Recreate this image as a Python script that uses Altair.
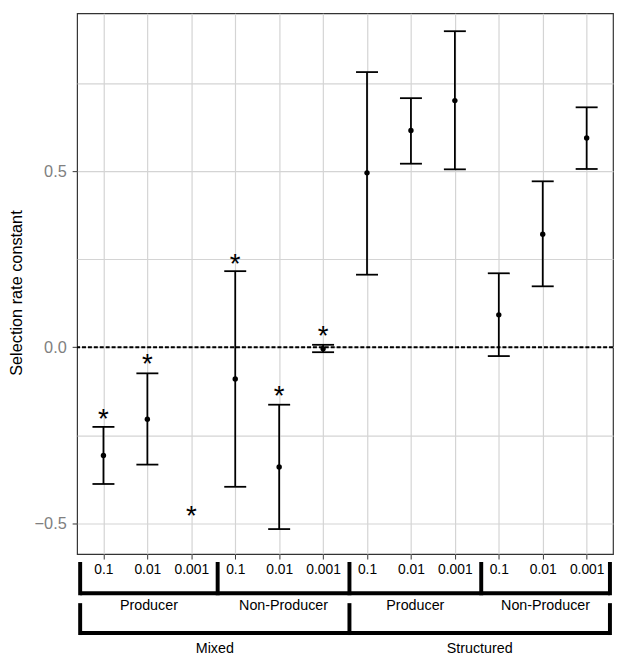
import json
import altair as alt
import pandas as pd

# ---- data ----
treatment = ["Mixed"] * 6 + ["Structured"] * 6
strain = (["Producer"] * 3 + ["Non-Producer"] * 3) * 2
dose = ["0.1", "0.01", "0.001"] * 4
mean = [-0.307, -0.204, None, -0.090, -0.340, -0.004, 0.495, 0.615, 0.700, 0.092, 0.321, 0.594]
lower = [-0.388, -0.333, None, -0.396, -0.516, -0.014, 0.206, 0.521, 0.505, -0.025, 0.173, 0.506]
upper = [-0.226, -0.074, None, 0.216, -0.163, 0.007, 0.781, 0.707, 0.897, 0.210, 0.471, 0.681]
star_y = [-0.185, -0.028, -0.459, 0.257, -0.118, 0.052, None, None, None, None, None, None]
y_ticks = [-0.5, -0.25, 0.0, 0.25, 0.5, 0.75]

FONT = "Liberation Sans"
GRID = "#d4d4d4"

pos = list(range(1, len(dose) + 1))
df = pd.DataFrame({
    "pos": pos, "treatment": treatment, "strain": strain, "dose": dose,
    "mean": mean, "lower": lower, "upper": upper,
})
df["cap_l"] = df["pos"] - 0.25
df["cap_r"] = df["pos"] + 0.25

stars = pd.DataFrame({"pos": pos, "star": star_y}).dropna()

# ---- bracket geometry derived from grouping ----
def group_edges(keys):
    groups = []
    for i, k in enumerate(keys):
        p = i + 1
        if groups and groups[-1][0] == k:
            groups[-1][2] = p
        else:
            groups.append([k, p, p])
    return groups

lvl1 = group_edges(list(zip(treatment, strain)))
lvl2 = group_edges(treatment)
n = len(dose)

def edge_left(first):
    return first - 0.53 if first == 1 else first - 0.4

def edge_right(last):
    return last + 0.53 if last == n else last + 0.6

b1 = pd.DataFrame([{"pos": edge_left(f), "pos_end": edge_right(l), "label": k[1]} for k, f, l in lvl1])
b2 = pd.DataFrame([{"pos": edge_left(f), "pos_end": edge_right(l), "label": k} for k, f, l in lvl2])
b1["mid"] = (b1["pos"] + b1["pos_end"]) / 2
b2["mid"] = (b2["pos"] + b2["pos_end"]) / 2
v1 = pd.DataFrame({"pos": sorted(set(b1["pos"]).union(b1["pos_end"]))})
v2 = pd.DataFrame({"pos": sorted(set(b2["pos"]).union(b2["pos_end"]))})

# ---- encodings ----
x_axis = alt.Axis(
    values=pos,
    labelExpr=json.dumps(dose) + "[datum.value - 1]",
    grid=True, gridColor=GRID, gridWidth=1.2,
    tickColor="#333333", tickSize=5, tickWidth=1,
    labelFont=FONT, labelFontSize=14, labelColor="black",
    labelBaseline="alphabetic", labelPadding=15,
    labelFlush=False, labelOverlap=False,
    domain=False, title=None,
)
x_scale = alt.Scale(domain=[0.4, 12.6], nice=False, zero=False)
X = alt.X("pos:Q", scale=x_scale, axis=x_axis, title=None)

major = "abs(datum.value % 0.5) < 0.001"
y_axis = alt.Axis(
    values=y_ticks, format=".1f",
    labelExpr=major + " ? datum.label : ''",
    tickOpacity={"condition": {"test": major, "value": 1}, "value": 0},
    grid=True, gridColor=GRID, gridWidth=1.2,
    tickColor="#333333", tickSize=5, tickWidth=1,
    labelFont=FONT, labelFontSize=16.5, labelColor="#808080", labelPadding=6,
    domain=False,
    title="Selection rate constant",
    titleFont=FONT, titleFontSize=16.5, titleFontWeight="normal", titleColor="black",
    titleAngle=270, titleAlign="center", titleBaseline="middle",
    titleX=-61, titleY=283,
)
y_scale = alt.Scale(domain=[-0.587, 0.948], nice=False, zero=False)

base = alt.Chart(df)
LWE = 1.8

zero = alt.Chart(pd.DataFrame({"z": [0.0]})).mark_rule(
    color="black", strokeWidth=2.2, strokeDash=[4, 2]
).encode(y=alt.Y("z:Q", scale=y_scale, axis=y_axis))

bars = base.mark_rule(color="black", strokeWidth=LWE).encode(
    x=X, y=alt.Y("lower:Q", scale=y_scale, axis=y_axis), y2="upper:Q"
)
cap_hi = base.mark_rule(color="black", strokeWidth=LWE).encode(
    x=alt.X("cap_l:Q", scale=x_scale, axis=x_axis, title=None), x2="cap_r:Q",
    y=alt.Y("upper:Q", scale=y_scale, axis=y_axis),
)
cap_lo = base.mark_rule(color="black", strokeWidth=LWE).encode(
    x=alt.X("cap_l:Q", scale=x_scale, axis=x_axis, title=None), x2="cap_r:Q",
    y=alt.Y("lower:Q", scale=y_scale, axis=y_axis),
)
points = base.mark_circle(color="black", opacity=1, size=30).encode(
    x=X, y=alt.Y("mean:Q", scale=y_scale, axis=y_axis)
)
star_fs = 28
asterisks = alt.Chart(stars).mark_text(
    text="*", font=FONT, fontSize=star_fs, color="black",
    baseline="alphabetic", dy=0.58 * star_fs,
).encode(x=X, y=alt.Y("star:Q", scale=y_scale, axis=y_axis))

# brackets below the panel (pixel offsets are layout)
LW = 4
L1_TOP, L1_H, L1_TXT = 556, 587.7, 604.3
L2_TOP, L2_H, L2_TXT = 597.7, 628, 648.3

h1 = alt.Chart(b1).mark_rule(color="black", strokeWidth=LW).encode(
    x=X, x2="pos_end:Q", y=alt.value(L1_H))
vv1 = alt.Chart(v1).mark_rule(color="black", strokeWidth=LW).encode(
    x=X, y=alt.value(L1_TOP), y2=alt.value(L1_H + LW / 2))
t1 = alt.Chart(b1).mark_text(font=FONT, fontSize=14.5, color="black", baseline="alphabetic").encode(
    x=alt.X("mid:Q", scale=x_scale, axis=x_axis, title=None), y=alt.value(L1_TXT), text="label:N")

h2 = alt.Chart(b2).mark_rule(color="black", strokeWidth=LW).encode(
    x=X, x2="pos_end:Q", y=alt.value(L2_H))
vv2 = alt.Chart(v2).mark_rule(color="black", strokeWidth=LW).encode(
    x=X, y=alt.value(L2_TOP), y2=alt.value(L2_H + LW / 2))
t2 = alt.Chart(b2).mark_text(font=FONT, fontSize=14.5, color="black", baseline="alphabetic").encode(
    x=alt.X("mid:Q", scale=x_scale, axis=x_axis, title=None), y=alt.value(L2_TXT), text="label:N")

chart = alt.layer(
    zero, bars, cap_hi, cap_lo, points, asterisks, h1, vv1, t1, h2, vv2, t2
).properties(
    width=543, height=548,
    autosize=alt.AutoSizeParams(type="none"),
    padding={"left": 70, "top": 1, "right": 1, "bottom": 104},
    background="white",
).configure_view(
    stroke="#333333", strokeWidth=1.2
)

chart.save("out.html", embed_options={"renderer": "svg", "actions": False})
